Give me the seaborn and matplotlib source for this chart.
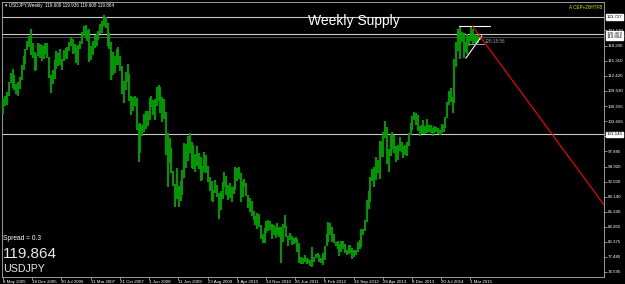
import numpy as np
import pandas as pd
import matplotlib
matplotlib.use("Agg")
import matplotlib.pyplot as plt
import matplotlib.transforms as mtransforms
import seaborn as sns

# ---- biweekly USDJPY bars (low / high), first bar starts 8 May 2005 ----
lows_2005 = [105.0, 106.5, 106.7, 108.5, 111.0, 110.0, 109.6, 108.8, 108.6, 109.8, 111.6, 113.6, 114.6, 117.3, 118.0, 116.5, 115.9]
highs_2005 = [107.9, 108.6, 109.3, 111.2, 113.0, 113.7, 112.6, 110.8, 111.2, 112.1, 114.4, 116.2, 117.5, 119.2, 120.1, 121.4, 118.7]
lows_2006 = [113.4, 113.5, 116.2, 115.9, 115.3, 115.6, 116.6, 115.8, 112.0, 109.0, 110.8, 111.7, 113.8, 114.2, 114.5, 113.6, 115.3, 115.6, 115.6, 117.2, 118.2, 116.6, 116.7, 114.9, 114.4, 117.5]
highs_2006 = [117.0, 116.5, 118.7, 118.5, 118.4, 118.1, 118.7, 118.7, 116.0, 112.5, 113.6, 115.5, 117.2, 116.8, 117.6, 115.6, 117.3, 117.8, 118.0, 119.0, 119.9, 119.5, 118.5, 118.2, 118.3, 119.1]
lows_2007 = [118.5, 120.0, 119.6, 119.2, 115.1, 115.5, 116.5, 117.7, 118.2, 119.3, 120.5, 120.7, 122.0, 121.6, 118.1, 117.5, 111.6, 112.6, 112.9, 114.5, 114.5, 113.3, 108.8, 107.2, 109.7, 111.2]
highs_2007 = [120.9, 121.9, 122.2, 121.3, 121.4, 118.2, 119.1, 120.3, 120.4, 121.0, 122.3, 122.9, 124.1, 123.8, 122.5, 120.6, 119.0, 117.0, 116.3, 117.5, 117.9, 116.3, 114.3, 111.4, 113.2, 114.7]
lows_2008 = [107.5, 104.9, 105.6, 106.6, 101.9, 95.8, 97.5, 100.8, 101.5, 102.1, 102.8, 103.8, 106.4, 104.8, 103.8, 106.6, 107.5, 105.2, 103.5, 104.1, 97.2, 90.9, 95.6, 93.6, 91.2, 87.1]
highs_2008 = [112.7, 108.5, 108.3, 108.6, 108.2, 103.2, 103.4, 103.0, 105.1, 105.6, 105.7, 108.2, 108.6, 107.7, 107.9, 110.3, 110.6, 110.2, 108.3, 107.9, 105.5, 101.4, 100.5, 98.5, 94.0, 91.6]
lows_2009 = [88.6, 87.2, 88.2, 89.5, 92.8, 94.7, 96.0, 97.5, 94.7, 94.5, 93.8, 95.0, 94.4, 92.2, 92.4, 93.8, 93.6, 91.9, 90.2, 88.3, 88.0, 89.9, 89.1, 84.8, 86.5, 88.7]
highs_2009 = [94.6, 91.1, 92.2, 94.2, 99.4, 99.3, 100.8, 101.4, 99.6, 99.0, 97.4, 98.9, 97.5, 96.7, 95.0, 97.8, 97.2, 95.0, 92.9, 92.2, 90.4, 92.3, 91.3, 89.9, 90.2, 92.0]
lows_2010 = [91.0, 89.5, 88.5, 88.8, 88.1, 89.6, 90.3, 92.1, 92.5, 88.0, 89.1, 90.9, 89.2, 86.9, 86.2, 85.4, 84.7, 83.6, 82.9, 83.3, 80.9, 80.2, 80.2, 82.2, 82.5, 82.6]
highs_2010 = [93.8, 93.0, 91.3, 91.8, 91.0, 91.1, 94.8, 94.7, 94.9, 93.7, 92.2, 92.6, 91.7, 89.5, 88.8, 88.3, 86.4, 85.3, 85.9, 85.8, 83.6, 82.0, 83.0, 84.5, 84.7, 84.5]
lows_2011 = [80.9, 81.8, 81.1, 81.8, 81.4, 76.3, 80.3, 83.0, 81.3, 79.6, 80.8, 79.7, 79.9, 80.1, 78.5, 76.3, 76.2, 76.1, 76.5, 76.1, 76.4, 75.7, 75.6, 76.6, 77.2, 77.5]
highs_2011 = [83.8, 83.6, 83.3, 84.0, 83.2, 83.3, 83.8, 85.5, 83.5, 81.5, 82.2, 81.6, 81.2, 81.4, 81.0, 80.2, 77.4, 77.3, 77.9, 77.2, 77.1, 77.0, 79.5, 77.4, 78.1, 78.3]
lows_2012 = [76.6, 76.3, 76.0, 76.9, 79.6, 80.3, 81.8, 80.3, 80.2, 79.6, 79.0, 77.7, 78.4, 79.1, 78.2, 77.9, 78.0, 78.3, 77.1, 77.4, 77.9, 78.5, 79.1, 79.5, 81.7, 82.4]
highs_2012 = [77.9, 77.2, 78.3, 79.6, 81.9, 84.2, 84.0, 83.3, 81.9, 80.4, 80.5, 79.9, 80.6, 80.6, 79.9, 78.9, 79.7, 79.7, 79.2, 78.9, 78.9, 80.4, 80.7, 82.8, 82.9, 84.6]
lows_2013 = [84.3, 86.8, 88.1, 92.2, 90.9, 92.4, 93.6, 92.6, 96.8, 96.8, 100.5, 95.5, 93.8, 97.0, 98.3, 97.6, 95.8, 96.2, 98.0, 97.8, 96.6, 97.2, 96.9, 98.9, 101.0, 101.9]
highs_2013 = [88.4, 90.2, 92.9, 94.5, 94.8, 96.7, 96.2, 99.9, 99.9, 101.6, 103.7, 102.5, 98.3, 101.1, 101.5, 100.9, 98.8, 99.1, 100.6, 99.7, 98.8, 99.1, 99.6, 101.4, 103.4, 104.6]
lows_2014 = [103.8, 102.9, 101.8, 100.8, 101.2, 101.2, 101.2, 101.3, 101.6, 101.4, 100.8, 101.4, 101.6, 101.2, 101.0, 101.3, 101.5, 102.4, 104.3, 106.7, 107.4, 105.2, 107.2, 114.0, 117.2, 115.6, 118.9]
highs_2014 = [105.4, 105.2, 104.9, 102.8, 102.9, 103.8, 102.8, 104.1, 102.9, 102.9, 102.4, 102.8, 102.5, 102.3, 101.9, 103.2, 103.0, 104.5, 107.4, 109.5, 110.1, 108.4, 115.6, 118.9, 121.4, 121.8, 120.8]
lows_2015 = [115.8, 116.9, 116.6, 118.2, 119.2, 118.3, 118.7, 118.5, 118.8, 119.3]
highs_2015 = [120.7, 118.9, 120.5, 120.1, 122.0, 121.5, 120.4, 120.1, 120.3, 119.94]

date_labels = ["8 May 2005", "18 Dec 2005", "30 Jul 2006", "11 Mar 2007", "21 Oct 2007",
               "1 Jun 2008", "11 Jan 2009", "23 Aug 2009", "4 Apr 2010", "14 Nov 2010",
               "26 Jun 2011", "5 Feb 2012", "16 Sep 2012", "28 Apr 2013", "8 Dec 2013",
               "20 Jul 2014", "1 Mar 2015"]
price_ticks = [74.595, 77.485, 80.375, 83.265, 86.240, 89.140, 92.030, 94.920, 97.885,
               100.775, 103.665, 106.555, 109.530, 112.420, 115.310, 118.200, 121.170]
level_prices = [123.727, 120.463, 101.145]
bid_price = 119.864
supply_top_x = [500, 533]
supply_top_y = [122.0, 122.0]
trend_white_x = [507, 524.5]
trend_white_y = [115.8, 120.1]
trend_red_x = [514, 658]
trend_red_y = [122.03, 87.6]

lows = (lows_2005 + lows_2006 + lows_2007 + lows_2008 + lows_2009 + lows_2010 +
        lows_2011 + lows_2012 + lows_2013 + lows_2014 + lows_2015)
highs = (highs_2005 + highs_2006 + highs_2007 + highs_2008 + highs_2009 + highs_2010 +
         highs_2011 + highs_2012 + highs_2013 + highs_2014 + highs_2015)
df = pd.DataFrame({"week": np.arange(len(lows)) * 2 + 0.5, "low": lows, "high": highs})

sns.set_theme(style="dark")
plt.rcParams["font.family"] = ["Liberation Sans", "DejaVu Sans"]

W, H = 625, 284
fig = plt.figure(figsize=(W / 100, H / 100), dpi=100, facecolor="black")
ax = fig.add_axes([2 / W, 7 / H, 602 / W, 275 / H])
ax.set_facecolor("black")

ax.vlines(df["week"], df["low"], df["high"], color="#00a000", lw=1.35, zorder=3)

for p in level_prices:
    ax.axhline(p, color="#c8c8c8", lw=0.8, zorder=2)
ax.axhline(bid_price, color="#4a5058", lw=0.8, zorder=2)

sns.lineplot(x=supply_top_x, y=supply_top_y, color="white", lw=0.8, ax=ax, zorder=4)
sns.lineplot(x=trend_white_x, y=trend_white_y, color="white", lw=0.8, ax=ax, zorder=4)
sns.lineplot(x=trend_red_x, y=trend_red_y, color="#ff0000", lw=0.8, ax=ax, zorder=4)
ax.plot([510, 527], [118.5, 118.5], color="#a0a0a0", lw=0.7, zorder=4)
ax.text(527.5, 119.1, "126:18:56", color="#a0a0a0", fontsize=3.3, va="center", ha="left", zorder=5)

ax.set_xlim(-1.1, 658.3)
ax.set_ylim(73.63, 126.62)

ax.set_xticks(np.arange(len(date_labels)) * 32)
ax.set_xticklabels(date_labels, fontsize=3.2, color="white", ha="left")
ax.yaxis.tick_right()
ax.set_yticks(price_ticks)
ax.set_yticklabels([f"{v:.3f}" for v in price_ticks], fontsize=3.2, color="white")
ax.tick_params(axis="x", length=2, width=0.5, color="#c0c0c0", pad=0.3, bottom=True)
ax.tick_params(axis="y", length=2, width=0.5, color="#c0c0c0", pad=0.8, right=True, left=False)
ax.grid(False)
for s in ax.spines.values():
    s.set_color("#b0b0b0")
    s.set_linewidth(0.6)
    s.set_visible(True)

trans = mtransforms.blended_transform_factory(ax.transAxes, ax.transData)
for p in level_prices + [bid_price]:
    ax.text(1.004, p, f"{p:.3f}", transform=trans, fontsize=3.2, color="black",
            va="center", ha="left", zorder=6, clip_on=False,
            bbox=dict(facecolor="white", edgecolor="white", pad=0.4))

def ftext(x, y, s, **kw):
    fig.text(x / W, 1 - y / H, s, **kw)

ftext(5, 7.5, "\u25be USDJPY,Weekly  119.609 119.936 119.608 119.864", fontsize=3.3, color="white", va="baseline")
ftext(602, 9, "A CEP+20HTFB", fontsize=3.3, color="#e6e600", va="baseline", ha="right")
ftext(308, 25.5, "Weekly Supply", fontsize=10, color="white", va="baseline")
ftext(3, 239.5, "Spread = 0.3", fontsize=4.8, color="white", va="baseline")
ftext(3, 257.5, "119.864", fontsize=11, color="#e8e8e8", va="baseline")
ftext(3, 272.5, "USDJPY", fontsize=7.7, color="#e8e8e8", va="baseline")

fig.savefig("out.png", dpi=100, facecolor="black")
